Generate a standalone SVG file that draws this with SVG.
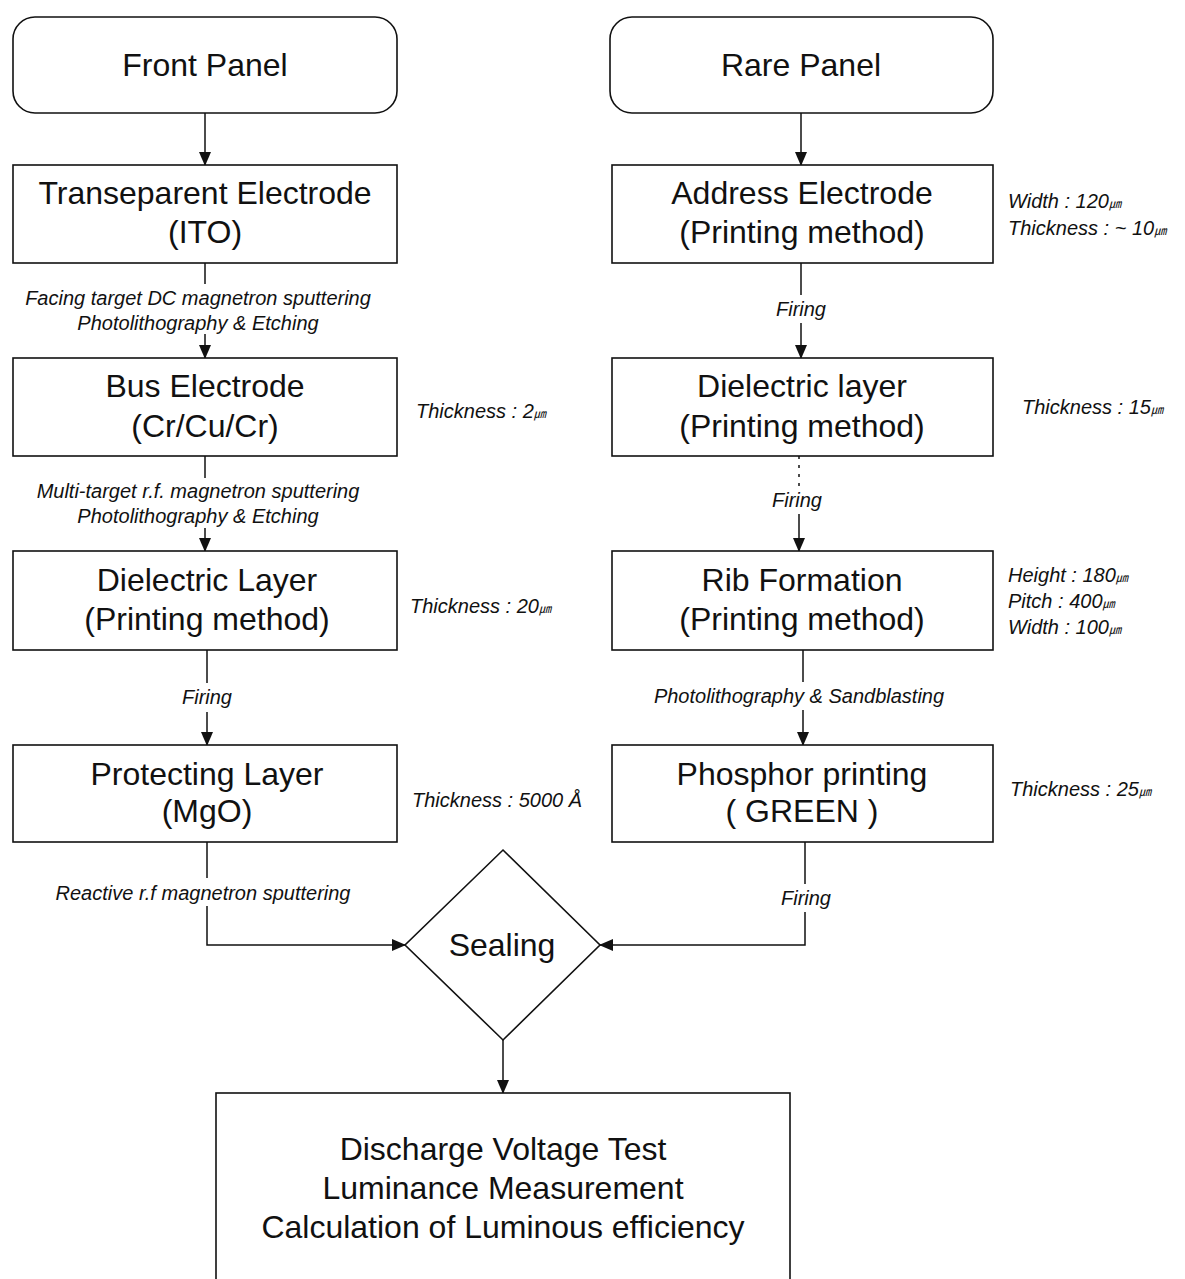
<svg xmlns="http://www.w3.org/2000/svg" width="1185" height="1279" viewBox="0 0 1185 1279">
<defs>
<style>
.box{fill:#fff;stroke:#111;stroke-width:1.6}
.t{font-family:"Liberation Sans",Arial,sans-serif;font-size:32px;fill:#111;text-anchor:middle}
.s{font-family:"Liberation Sans",Arial,sans-serif;font-size:20px;font-style:italic;fill:#111}
.c{text-anchor:middle}
.u{font-family:"Noto Sans CJK KR","Liberation Sans",sans-serif;font-size:12px;font-style:italic}
.ln{stroke:#111;stroke-width:1.5;fill:none}
</style>
<marker id="ah" markerWidth="14" markerHeight="14" refX="13" refY="7" orient="auto" markerUnits="userSpaceOnUse">
<path d="M0,1 L14,7 L0,13 Z" fill="#111"/>
</marker>
</defs>
<rect width="1185" height="1279" fill="#fff"/>

<g id="connectors">
<line class="ln" x1="205" y1="113" x2="205" y2="165" marker-end="url(#ah)"/>
<line class="ln" x1="801" y1="113" x2="801" y2="165" marker-end="url(#ah)"/>
<line class="ln" x1="205" y1="263" x2="205" y2="284"/>
<line class="ln" x1="205" y1="334" x2="205" y2="358" marker-end="url(#ah)"/>
<line class="ln" x1="205" y1="456" x2="205" y2="478"/>
<line class="ln" x1="205" y1="528" x2="205" y2="551" marker-end="url(#ah)"/>
<line class="ln" x1="207" y1="650" x2="207" y2="683"/>
<line class="ln" x1="207" y1="712" x2="207" y2="745" marker-end="url(#ah)"/>
<line class="ln" x1="207" y1="842" x2="207" y2="878"/>
<polyline class="ln" points="207,906 207,945 405,945" marker-end="url(#ah)"/>
<line class="ln" x1="801" y1="263" x2="801" y2="295"/>
<line class="ln" x1="801" y1="323" x2="801" y2="358" marker-end="url(#ah)"/>
<line class="ln" x1="799" y1="456" x2="799" y2="486" stroke-dasharray="3,6"/>
<line class="ln" x1="799" y1="514" x2="799" y2="551" marker-end="url(#ah)"/>
<line class="ln" x1="803" y1="650" x2="803" y2="682"/>
<line class="ln" x1="803" y1="710" x2="803" y2="745" marker-end="url(#ah)"/>
<line class="ln" x1="805" y1="842" x2="805" y2="884"/>
<polyline class="ln" points="805,912 805,945 600,945" marker-end="url(#ah)"/>
<line class="ln" x1="503" y1="1040" x2="503" y2="1093" marker-end="url(#ah)"/>
</g>

<g id="front-panel">
<rect class="box" x="13" y="17" width="384" height="96" rx="22"/>
<text class="t" x="205" y="76">Front Panel</text>
</g>
<g id="rare-panel">
<rect class="box" x="610" y="17" width="383" height="96" rx="22"/>
<text class="t" x="801" y="76">Rare Panel</text>
</g>

<g id="transparent-electrode">
<rect class="box" x="13" y="165" width="384" height="98"/>
<text class="t" x="205" y="204">Transeparent Electrode</text>
<text class="t" x="205" y="243">(ITO)</text>
</g>
<g id="label-facing">
<text class="s c" x="198" y="305">Facing target DC magnetron sputtering</text>
<text class="s c" x="198" y="330">Photolithography &amp; Etching</text>
</g>

<g id="bus-electrode">
<rect class="box" x="13" y="358" width="384" height="98"/>
<text class="t" x="205" y="397">Bus Electrode</text>
<text class="t" x="205" y="437">(Cr/Cu/Cr)</text>
</g>
<text class="s" x="416" y="418">Thickness : 2<tspan class="u">㎛</tspan></text>
<g id="label-multi">
<text class="s c" x="198" y="498">Multi-target r.f. magnetron sputtering</text>
<text class="s c" x="198" y="523">Photolithography &amp; Etching</text>
</g>

<g id="dielectric-front">
<rect class="box" x="13" y="551" width="384" height="99"/>
<text class="t" x="207" y="591">Dielectric Layer</text>
<text class="t" x="207" y="630">(Printing method)</text>
</g>
<text class="s" x="410" y="613">Thickness : 20<tspan class="u">㎛</tspan></text>
<text class="s c" x="207" y="704">Firing</text>

<g id="protecting-layer">
<rect class="box" x="13" y="745" width="384" height="97"/>
<text class="t" x="207" y="785">Protecting Layer</text>
<text class="t" x="207" y="822">(MgO)</text>
</g>
<text class="s" x="412" y="807">Thickness : 5000 Å</text>
<text class="s c" x="203" y="900">Reactive r.f magnetron sputtering</text>

<g id="address-electrode">
<rect class="box" x="612" y="165" width="381" height="98"/>
<text class="t" x="802" y="204">Address Electrode</text>
<text class="t" x="802" y="243">(Printing method)</text>
</g>
<text class="s" x="1008" y="208">Width : 120<tspan class="u">㎛</tspan></text>
<text class="s" x="1008" y="235">Thickness : ~ 10<tspan class="u">㎛</tspan></text>
<text class="s c" x="801" y="316">Firing</text>

<g id="dielectric-rear">
<rect class="box" x="612" y="358" width="381" height="98"/>
<text class="t" x="802" y="397">Dielectric layer</text>
<text class="t" x="802" y="437">(Printing method)</text>
</g>
<text class="s" x="1022" y="414">Thickness : 15<tspan class="u">㎛</tspan></text>
<text class="s c" x="797" y="507">Firing</text>

<g id="rib-formation">
<rect class="box" x="612" y="551" width="381" height="99"/>
<text class="t" x="802" y="591">Rib Formation</text>
<text class="t" x="802" y="630">(Printing method)</text>
</g>
<text class="s" x="1008" y="582">Height : 180<tspan class="u">㎛</tspan></text>
<text class="s" x="1008" y="608">Pitch : 400<tspan class="u">㎛</tspan></text>
<text class="s" x="1008" y="634">Width : 100<tspan class="u">㎛</tspan></text>
<text class="s c" x="799" y="703">Photolithography &amp; Sandblasting</text>

<g id="phosphor-printing">
<rect class="box" x="612" y="745" width="381" height="97"/>
<text class="t" x="802" y="785">Phosphor printing</text>
<text class="t" x="802" y="822">( GREEN )</text>
</g>
<text class="s" x="1010" y="796">Thickness : 25<tspan class="u">㎛</tspan></text>
<text class="s c" x="806" y="905">Firing</text>

<g id="sealing">
<polygon class="box" points="503,850 600,945 503,1040 405,945"/>
<text class="t" x="502" y="956">Sealing</text>
</g>

<g id="test-box">
<rect class="box" x="216" y="1093" width="574" height="220"/>
<text class="t" x="503" y="1160">Discharge Voltage Test</text>
<text class="t" x="503" y="1199">Luminance Measurement</text>
<text class="t" x="503" y="1238">Calculation of Luminous efficiency</text>
</g>
</svg>
